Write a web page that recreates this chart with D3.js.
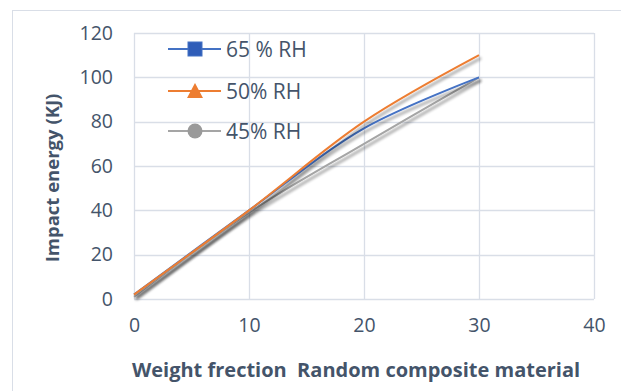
<!DOCTYPE html>
<html>
<head>
<meta charset="utf-8">
<script src="https://cdn.jsdelivr.net/npm/d3@7"></script>
<style>
  html, body { margin: 0; padding: 0; background: #fff; }
  svg { display: block; font-family: "Open Sans", "Liberation Sans", sans-serif; }
</style>
</head>
<body>
<svg id="chart" width="621" height="391"></svg>
<script>
// Impact energy vs. weight fraction for three humidity levels
const weightFraction = [0, 10, 20, 30];
const rh65 = [2, 40, 77, 100];
const rh50 = [2, 40, 80, 110];
const rh45 = [1, 39, 70, 100];
const seriesNames = ["65 % RH", "50% RH", "45% RH"];
const seriesColors = ["#4472c4", "#ed7d31", "#a5a5a5"];
const markerFills = ["#2f5db8", "#ed7d31", "#9a9a9a"];
const markerTypes = ["square", "triangle", "circle"];
const xTicks = [0, 10, 20, 30, 40];
const yTicks = [0, 20, 40, 60, 80, 100, 120];

const svg = d3.select("#chart");
const textColor = "#44546a";
const gridColor = "#d9dee7";

const x = d3.scaleLinear().domain([0, 40]).range([134, 594]);
const y = d3.scaleLinear().domain([0, 120]).range([299, 33]);

// chart frame
svg.append("rect").attr("x", 12.5).attr("y", 10.5).attr("width", 640).attr("height", 420)
  .attr("fill", "none").attr("stroke", "#d9dee7").attr("stroke-width", 1);

const defs = svg.append("defs");
const f = defs.append("filter").attr("id", "shadow").attr("x", "-10%").attr("y", "-10%").attr("width", "130%").attr("height", "130%");
f.append("feGaussianBlur").attr("in", "SourceAlpha").attr("stdDeviation", 1.6).attr("result", "b");
f.append("feOffset").attr("in", "b").attr("dx", 2).attr("dy", 2.5).attr("result", "o");
f.append("feComponentTransfer").attr("in", "o").attr("result", "s")
  .append("feFuncA").attr("type", "linear").attr("slope", 0.45);
const m = f.append("feMerge");
m.append("feMergeNode").attr("in", "s");
m.append("feMergeNode").attr("in", "SourceGraphic");

// gridlines
svg.append("g").selectAll("line").data(yTicks).join("line")
  .attr("x1", x(0)).attr("x2", x(40))
  .attr("y1", d => Math.round(y(d)) + 0.5).attr("y2", d => Math.round(y(d)) + 0.5)
  .attr("stroke", gridColor).attr("stroke-width", 1.3);
svg.append("g").selectAll("line").data(xTicks).join("line")
  .attr("y1", y(0)).attr("y2", y(120))
  .attr("x1", d => Math.round(x(d)) + 0.5).attr("x2", d => Math.round(x(d)) + 0.5)
  .attr("stroke", gridColor).attr("stroke-width", 1.3);

// axes (labels only)
const yAxis = svg.append("g").attr("transform", `translate(${x(0)},0)`)
  .call(d3.axisLeft(y).tickValues(yTicks).tickSize(0).tickPadding(21));
const xAxis = svg.append("g").attr("transform", `translate(0,${y(0)})`)
  .call(d3.axisBottom(x).tickValues(xTicks).tickSize(0).tickPadding(19));
[yAxis, xAxis].forEach(a => {
  a.select(".domain").remove();
  a.selectAll("text").attr("fill", textColor).style("font-size", "19.5px")
    .style("font-family", "'Open Sans', sans-serif");
});

// series
const data = [rh65, rh50, rh45];
const line = d3.line().x((d, i) => x(weightFraction[i])).y(d => y(d)).curve(d3.curveCatmullRom.alpha(0.5));
const order = [2, 0, 1];
order.forEach(k => {
  svg.append("path").datum(data[k]).attr("d", line)
    .attr("fill", "none").attr("stroke", seriesColors[k]).attr("stroke-width", 2)
    .attr("filter", "url(#shadow)");
});

// legend
const lg = svg.append("g");
const rows = [49, 91, 131];
seriesNames.forEach((name, i) => {
  const g = lg.append("g").attr("transform", `translate(0,${rows[i]})`);
  g.append("line").attr("x1", 168).attr("x2", 221).attr("y1", 0).attr("y2", 0)
    .attr("stroke", seriesColors[i]).attr("stroke-width", 2);
  const cx = 195;
  if (markerTypes[i] === "square") {
    g.append("rect").attr("x", cx - 7).attr("y", -7).attr("width", 14).attr("height", 14)
      .attr("fill", markerFills[i]).attr("stroke", seriesColors[i]).attr("stroke-width", 1);
  } else if (markerTypes[i] === "triangle") {
    g.append("path").attr("d", `M${cx},-8 L${cx + 8},7 L${cx - 8},7 Z`)
      .attr("fill", markerFills[i]);
  } else {
    g.append("circle").attr("cx", cx).attr("cy", 0).attr("r", 7.5).attr("fill", markerFills[i]);
  }
  g.append("text").attr("x", 226).attr("y", 0).attr("dy", "0.36em")
    .attr("fill", textColor).style("font-size", "21px").text(name);
});

// axis titles
svg.append("text").attr("x", 356).attr("y", 377).attr("text-anchor", "middle")
  .attr("fill", textColor).style("font-size", "20px").style("font-weight", "bold")
  .text("Weight frection\u00a0 Random composite material");
svg.append("text").attr("transform", "translate(59,178) rotate(-90)").attr("text-anchor", "middle")
  .attr("fill", textColor).style("font-size", "18.5px").style("font-weight", "bold")
  .text("Impact energy (KJ)");
</script>
</body>
</html>
